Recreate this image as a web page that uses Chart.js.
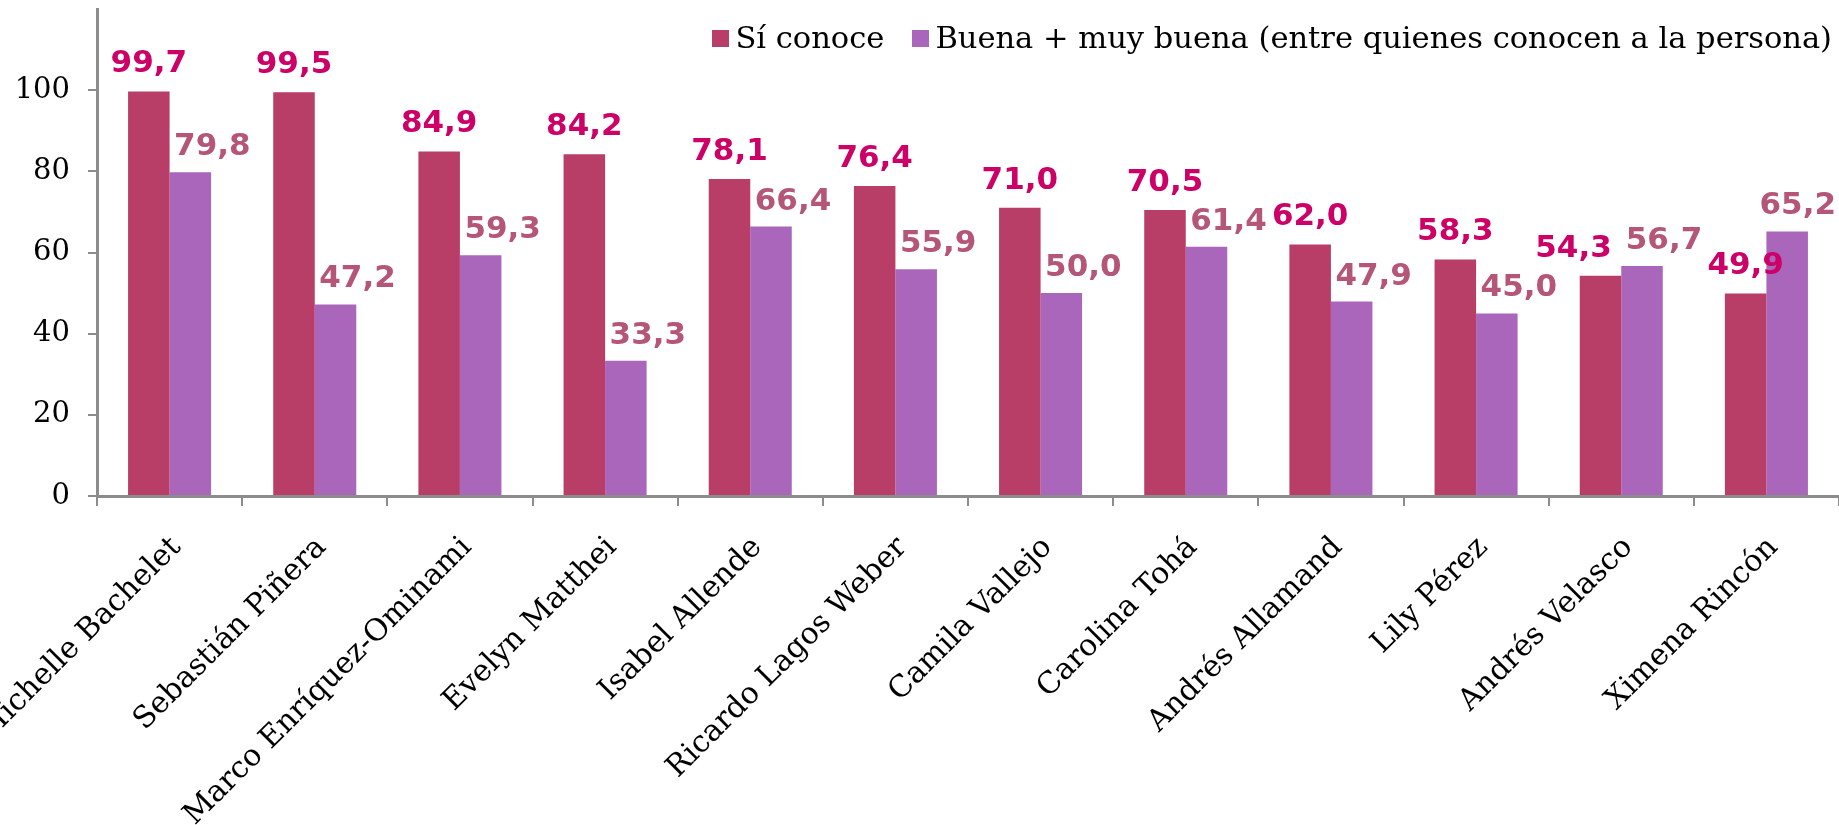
<!DOCTYPE html>
<html>
<head>
<meta charset="utf-8">
<script src="https://cdn.jsdelivr.net/npm/chart.js@4.4.1/dist/chart.umd.min.js"></script>
<style>
  html, body { margin: 0; padding: 0; background: #fff; }
  #wrap { position: relative; width: 1839px; height: 825px; overflow: hidden; }
  #legend { position: absolute; top: 23px; right: 7px; display: flex; align-items: center;
    font-family: "DejaVu Serif", serif; font-size: 30.5px; line-height: 30px; color: #000; }
  #legend .item { display: flex; align-items: center; margin-left: 28px; }
  #legend .box { width: 17px; height: 17px; margin-right: 6px; }
</style>
</head>
<body>
<div id="wrap">
  <canvas id="chart" width="1839" height="825"></canvas>
  <div id="legend"></div>
</div>
<script>
const names = ['Michelle Bachelet', 'Sebastián Piñera', 'Marco Enríquez-Ominami', 'Evelyn Matthei',
  'Isabel Allende', 'Ricardo Lagos Weber', 'Camila Vallejo', 'Carolina Tohá', 'Andrés Allamand',
  'Lily Pérez', 'Andrés Velasco', 'Ximena Rincón'];
const conoce = [99.7, 99.5, 84.9, 84.2, 78.1, 76.4, 71.0, 70.5, 62.0, 58.3, 54.3, 49.9];
const buena = [79.8, 47.2, 59.3, 33.3, 66.4, 55.9, 50.0, 61.4, 47.9, 45.0, 56.7, 65.2];
const yTicks = [0, 20, 40, 60, 80, 100];

const axisGray = '#8c8c8c';
const serif = '"DejaVu Serif", serif';

// value labels above the bars; keeps the pair in one group from colliding
const barLabels = {
  id: 'barLabels',
  afterDatasetsDraw(chart) {
    const ctx = chart.ctx;
    const h = 23;
    ctx.save();
    ctx.font = 'bold 31px "DejaVu Sans", sans-serif';
    ctx.textAlign = 'center';
    ctx.textBaseline = 'alphabetic';
    const sets = chart.data.datasets;
    const metas = sets.map((ds, i) => chart.getDatasetMeta(i));
    names.forEach((n, j) => {
      const labs = sets.map((ds, i) => {
        const bar = metas[i].data[j];
        const txt = ds.data[j].toFixed(1).replace('.', ',');
        const w = ctx.measureText(txt).width;
        let x = bar.x + ds.labelDx;
        x = Math.min(x, chart.width - 3 - w / 2);
        return { txt, w, x, y: bar.y - ds.labelGap, color: ds.labelColor };
      });
      const [a, b] = labs;
      const overlapY = Math.abs(a.y - b.y) < h;
      const aRight = a.x + a.w / 2, bLeft = b.x - b.w / 2;
      if (overlapY && aRight > bLeft - 14) a.x -= aRight - (bLeft - 14);
      labs.forEach(l => { ctx.fillStyle = l.color; ctx.fillText(l.txt, l.x, l.y); });
    });
    ctx.restore();
  }
};

const chart = new Chart(document.getElementById('chart'), {
  type: 'bar',
  data: {
    labels: names,
    datasets: [
      { label: 'Sí conoce', data: conoce, backgroundColor: '#b83d67',
        labelColor: '#cc0066', labelDx: 0, labelGap: 19 },
      { label: 'Buena + muy buena (entre quienes conocen a la persona)', data: buena, backgroundColor: '#aa66bb',
        labelColor: '#b55678', labelDx: 22, labelGap: 17 }
    ]
  },
  options: {
    responsive: false,
    animation: false,
    layout: { padding: { top: 9, left: 0, right: 0, bottom: 0 } },
    datasets: { bar: { categoryPercentage: 0.572, barPercentage: 1.0 } },
    plugins: { legend: { display: false }, tooltip: { enabled: false } },
    scales: {
      x: {
        grid: { drawOnChartArea: false, offset: true, color: axisGray, lineWidth: 2, tickLength: 10 },
        border: { color: axisGray, width: 3 },
        ticks: { autoSkip: false, minRotation: 45, maxRotation: 45, padding: 24, labelOffset: 7,
          color: '#000', font: { family: serif, size: 30 } },
        afterFit(s) { s.paddingLeft = 0; s.paddingRight = 0; s.height = 329; }
      },
      y: {
        min: 0, max: 120,
        afterBuildTicks(s) { s.ticks = yTicks.map(v => ({ value: v })); },
        grid: { drawOnChartArea: false, color: axisGray, lineWidth: 2, tickLength: 9 },
        border: { color: axisGray, width: 3 },
        ticks: { padding: 18, color: '#000', font: { family: serif, size: 29 } },
        afterFit(s) { s.paddingTop = 0; s.paddingBottom = 0; s.width = 97; }
      }
    }
  },
  plugins: [barLabels]
});

// html legend built from the datasets
const legend = document.getElementById('legend');
chart.data.datasets.forEach(ds => {
  const item = document.createElement('div');
  item.className = 'item';
  item.innerHTML = `<span class="box" style="background:${ds.backgroundColor}"></span><span>${ds.label}</span>`;
  legend.appendChild(item);
});
</script>
</body>
</html>
